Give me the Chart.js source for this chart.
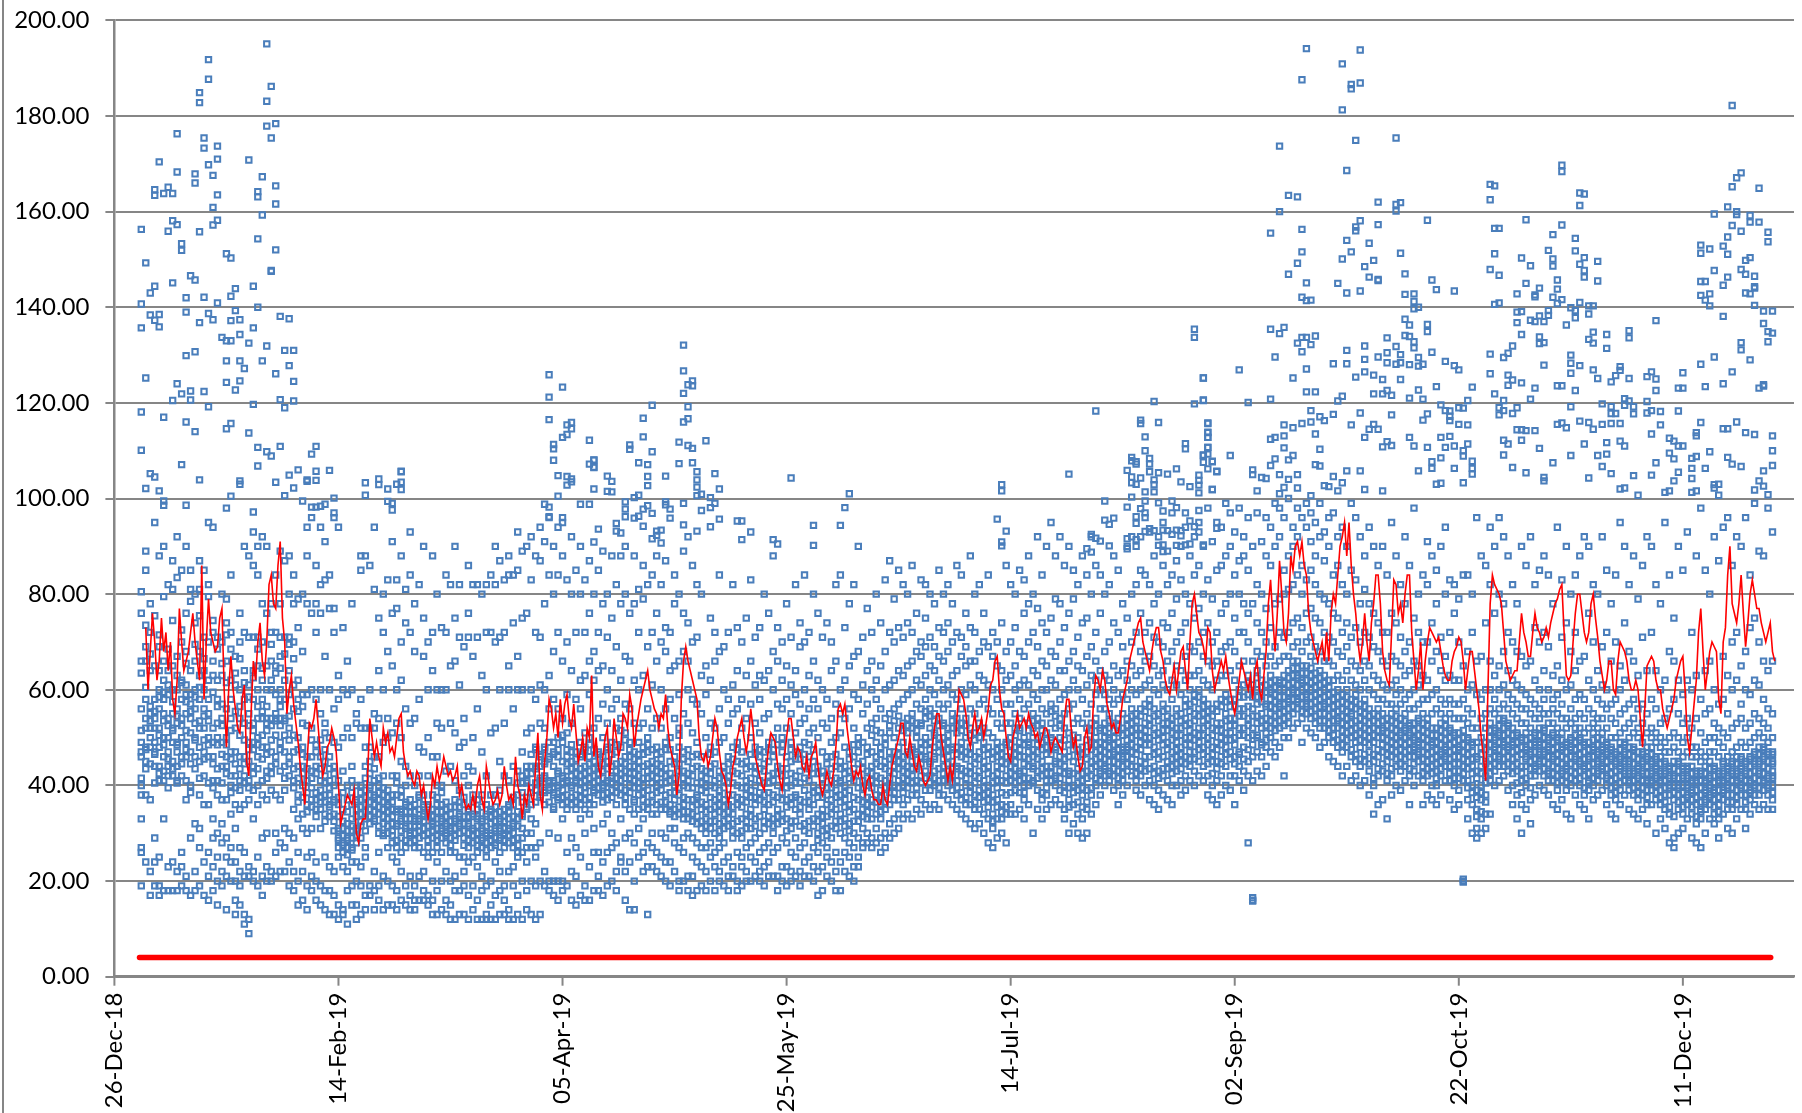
<!DOCTYPE html>
<html>
<head>
<meta charset="utf-8">
<style>
  html, body { margin: 0; padding: 0; background: #fff; overflow: hidden; }
  #frame { position: absolute; left: 2px; top: 0; width: 2px; height: 1113px; background: #868686; }
  #wrap { position: absolute; left: 0; top: 0; width: 1802px; height: 1113px; }
</style>
</head>
<body>
<div id="frame"></div>
<div id="wrap"><canvas id="grafico" width="1802" height="1113"></canvas></div>
<script src="https://cdn.jsdelivr.net/npm/chart.js@4/dist/chart.umd.min.js"></script>
<script>
/* ============================================================
DADOS - cada linha das bandas = um dia, a partir de 01-Jan-19
============================================================ */

const yTicks = [0, 20, 40, 60, 80, 100, 120, 140, 160, 180, 200];
const xTicks = [0, 50, 100, 150, 200, 250, 300, 350];
const floorX = [5.6, 369.6];
const floorY = [4, 4];

/* pontos altos: [dia, valor] */
const peaksWinter = [[28,195.1],[15,191.8],[15,187.7],[13,184.9],[13,182.8],[29,186.2],[28,183.1],[30,178.4],[28,177.9],[29,175.4],[8,176.3],[14,175.4],[14,173.3],[17,173.7],[17,171],[24,170.8],[4,170.4],[15,169.8],[8,168.3],[12,167.9],[16,167.6],[27,167.3],[12,166],[30,165.4],[3,164.6],[6,165.1],[3,163.4],[5,163.8],[7,163.8],[17,163.5],[26,164.2],[26,163.1],[30,161.6],[16,160.9],[27,159.3],[7,158.1],[17,158.2],[8,157.3],[16,157.2],[0,156.3],[6,155.9],[13,155.8],[26,154.3],[9,153.3],[9,151.9],[30,152],[19,151.2],[20,150.3],[1,149.3],[29,147.7],[29,147.5],[11,146.6],[12,145.7],[7,145.1],[3,144.4],[25,144.4],[21,143.9],[2,143],[20,142.3],[10,142],[14,142.1],[17,140.9],[0,140.7],[26,140],[21,139.3],[10,139],[15,138.7],[2,138.4],[4,138.5],[3,137.3],[31,138.1],[33,137.6],[16,137.4],[20,137.2],[22,137.4],[13,136.8],[0,135.7],[4,135.9],[25,135.7],[22,134.3],[18,133.7],[19,133],[20,133],[24,132.5],[28,131.9],[32,131],[34,131],[12,130.7],[10,129.9],[19,128.8],[22,128.8],[27,128.8],[33,127.8],[23,127.2],[30,126.1],[1,125.2],[22,124.6],[34,124.5],[19,124.3],[8,124],[11,122.5],[14,122.4],[21,122.7],[9,121.9],[7,120.5],[11,120.6],[31,120.7],[34,120.4],[25,119.7],[15,119.2],[32,119],[0,118.1],[5,117],[10,116],[20,115.7],[19,114.6],[12,114],[24,113.7],[0,110.1],[26,110.7],[31,110.9],[39,110.9],[28,109.8],[29,108.9],[38,109.3],[9,107.1],[26,106.8],[2,105.2],[3,104.5],[35,106],[39,105.7],[42,105.9],[33,104.9],[13,103.9],[22,103.7],[22,103],[37,103.9],[37,103.6],[39,103.8],[30,103.4],[34,102.2],[1,102.1],[4,101.6],[20,100.5],[32,100.6],[43,100.1],[36,99.5],[5,99.5],[5,98.6],[10,98.6],[19,98],[38,98.2],[39,98.2],[40,98.4],[41,98.8],[25,97.2],[43,97],[50,103.3],[50,100.7],[53,104.1],[53,102.9],[55,102],[57,103],[58,105.7],[58,105.6],[58,103.4],[58,101.9],[55,99.4],[56,99],[56,97.6]];
const peaksSpring = [[91,125.9],[94,123.3],[91,121.2],[91,116.5],[95,115.4],[96,115.9],[96,114.6],[95,113.4],[94,112.8],[92,111.3],[92,110.4],[100,112.2],[92,108],[101,108],[100,107.2],[101,106.6],[93,104.8],[95,104.6],[96,104.1],[96,103.5],[95,102.8],[101,102],[93,100.5],[90,98.8],[91,98.2],[98,98.8],[100,98.8],[91,96.2],[94,96],[121,132.1],[121,126.7],[123,124.6],[122,123.8],[123,123.6],[121,122],[114,119.5],[122,119.2],[112,116.8],[122,116.7],[121,116],[112,112.9],[126,112.1],[120,111.8],[122,111.1],[123,110.5],[109,111.2],[109,110.3],[114,109.8],[101,108.1],[101,106.5],[111,107.5],[113,107.1],[120,107.3],[123,107.5],[124,105.6],[128,105.2],[104,104.7],[113,104.6],[117,104.7],[105,103.6],[124,103.9],[113,102.7],[124,102.4],[129,102],[104,101.5],[105,101.4],[111,100.7],[110,100.2],[125,100.9],[124,100.6],[127,100.2],[145,104.3],[158,101],[192,102.9],[192,101.6],[207,105.1],[108,99.3],[108,97.8],[113,98.5],[112,97.8],[114,96.9],[108,96.2],[110,95.9],[111,96.3],[117,99.3],[117,98.7],[118,97.8],[118,95.9],[121,99],[125,97.5],[127,98.1],[128,99],[129,95.7],[121,94.5],[127,94.1],[106,94.8],[102,93.6],[112,94.2],[106,93.2],[107,92.8],[115,93.2],[116,93.4],[124,93.2],[133,95.3],[134,95.3],[136,93],[115,92.3],[122,92],[114,91.6],[134,91.4],[141,91.4],[142,90.5],[116,90.7],[101,90.9],[150,94.4],[156,94.4],[150,90.2],[157,98.1],[191,95.7],[193,93.2],[192,90.9],[192,90.1]];
const peaksSummer = [[235,135.4],[235,133.7],[237,125.2],[226,120.3],[235,119.8],[237,120.6],[213,118.3],[223,116.4],[223,115.7],[227,115.9],[238,115.7],[238,113.8],[238,112.8],[224,112.9],[233,111.5],[233,110.4],[238,110.7],[224,110],[237,109.1],[238,109.3],[221,108.6],[221,107.9],[222,107.7],[222,107.2],[225,108.4],[225,107.2],[237,107.6],[239,107.7],[238,106.2],[231,106.2],[220,105.9],[225,105.6],[227,105.4],[229,105.1],[240,105.6],[221,104.5],[223,104.3],[226,103.9],[236,104.9],[236,103.8],[232,103.5],[221,103.3],[222,103],[226,102.9],[236,102.8],[234,102.5],[239,101.9],[224,101.4],[226,101.4],[236,101.2],[221,100.3],[215,99.5],[220,98.2],[217,95.9],[215,95.5],[216,94.6],[222,96.2],[222,94.8],[224,99.5],[227,99.1],[230,99.5],[231,98.1],[223,97.9],[224,97],[228,97.4],[230,97],[233,97],[236,97.5],[228,95],[234,95.3],[235,94.1],[240,93.8],[212,92.5],[213,91.7],[214,91.1],[220,91.6],[222,91.4],[224,93.1],[225,93.7],[226,93.3],[228,93.4],[229,93.3],[231,93.4],[232,93.3],[236,93],[223,92],[230,92.5],[232,92.2],[216,90.1],[211,89.5],[212,88.8],[220,89.5],[227,90.2],[228,90.3],[228,88.9],[231,90.2],[233,90.3],[234,90.5],[237,90.3]];
const peaksAutumnA = [[260,194.1],[272,193.8],[268,190.9],[259,187.6],[270,186.6],[270,185.7],[272,186.9],[268,181.3],[355,182.2],[280,175.4],[271,174.9],[254,173.7],[269,168.6],[317,169.7],[317,168.4],[357,168.1],[356,167.1],[301,165.7],[302,165.4],[355,165.2],[361,164.9],[321,163.9],[322,163.7],[256,163.4],[258,163.1],[301,162.5],[276,162],[281,161.9],[280,161.5],[280,160.1],[321,161.3],[354,161],[254,160],[351,159.5],[356,160],[356,159.4],[309,158.3],[287,158.2],[272,158.1],[359,159.2],[359,157.8],[361,157.8],[276,157.3],[317,157.2],[271,156.8],[271,156],[259,156.3],[355,157.1],[302,156.5],[303,156.5],[357,155.9],[363,155.7],[252,155.5],[315,155.2],[320,154.4],[354,154.7],[269,154],[274,153.4],[363,153.7],[348,153],[353,152.8],[350,152.2],[314,151.9],[320,151.8],[270,151.6],[259,151.6],[281,151.3],[348,151.3],[302,151.2],[354,151.1],[308,150.3],[315,150.1],[322,150.4],[359,150.4],[358,149.8],[268,150.1],[275,149.8],[325,149.6],[258,149.2],[321,149],[310,148.7],[315,148.6],[273,148.5],[301,147.9],[357,147.9],[351,147.7],[322,147.7],[256,146.9],[282,147],[303,146.7],[358,146.9],[274,146.3],[276,145.8],[276,145.6],[322,146.3],[354,146.3],[360,146.5],[288,145.7],[316,145.7],[325,145.5],[348,145.4],[349,145.4],[260,145.1],[267,145],[309,145],[353,144.6],[360,144.3],[360,144],[312,144],[289,143.7],[293,143.4],[316,143.8],[272,143.4],[269,143],[358,143],[359,142.8],[282,142.7],[284,142.8],[307,142.8],[311,142.6],[311,142.2],[348,142.5],[350,142.8],[315,142.1],[317,141.6],[259,142.1],[260,141.4],[261,141.5],[284,141.2],[349,141.5],[321,141],[303,140.9],[302,140.6],[316,140.8],[360,140.4],[350,140.3],[323,140.3],[324,140.3],[285,140],[284,139.7],[319,139.9],[314,139.3],[320,139.3],[308,139.1],[307,139],[362,139.2],[364,139.2],[323,138.6],[314,138.3],[312,138.2],[353,138.1],[282,137.5],[310,137.3],[311,137],[313,137],[320,137.8],[307,136.8],[338,137.2],[362,136.6],[283,136.3],[287,136.4],[318,136.3],[252,135.4],[255,135.8],[254,134.5],[287,134.9],[324,134.8],[332,135.1],[363,134.9],[364,134.6],[327,134.3],[308,134.3],[262,134],[259,133.7],[260,133.7],[278,133.6],[282,134.1],[283,133.9],[332,133.6],[312,133.8],[323,133.3],[258,132.5],[284,132.8],[261,132.2],[312,132.4],[313,132.6],[324,132.5],[357,132.6],[357,131.1],[363,132.8],[273,131.9],[306,131.9],[284,131.5],[280,131.8],[327,131.4],[269,131],[259,130.7],[278,130.5],[288,130.6],[305,130.4],[301,130.2],[281,130.1],[319,130]];
const peaksAutumnB = [[253,129.6],[276,129.6],[304,129.5],[351,129.6],[285,129.5],[273,129.1],[359,129],[291,128.7],[266,128.2],[269,128.2],[278,128.4],[281,128.4],[319,128.3],[348,128.1],[280,128.1],[283,128],[286,128.1],[285,127.7],[293,127.8],[294,126.9],[313,127.9],[321,127.8],[330,127.6],[330,126.8],[324,126.9],[245,126.9],[260,127.1],[273,126.5],[337,126.5],[344,126.3],[355,126.5],[301,126.1],[319,126.2],[275,125.8],[305,125.8],[329,125.7],[271,125.4],[257,125.2],[237,125.2],[336,125.5],[277,124.9],[281,124.9],[306,124.8],[325,125.1],[332,125.1],[338,125],[328,124.4],[308,124.2],[305,123.7],[316,123.6],[317,123.6],[353,124],[362,123.8],[362,123.5],[361,123.1],[297,123.3],[289,123.4],[343,123.1],[344,123.1],[349,123.4],[311,123.1],[285,122.7],[278,122.6],[320,122.6],[338,122.6],[260,122.3],[262,122.3],[275,121.9],[277,121.9],[279,121.6],[302,121.9],[268,121.4],[267,120.4],[283,121],[286,120.8],[310,120.8],[252,120.8],[237,120.5],[331,120.9],[332,120.4],[247,120.1],[296,120.5],[304,120.5],[336,120.3],[290,119.6],[326,119.8],[294,119],[295,118.9],[319,119.2],[303,119],[307,119],[328,119.2],[331,119.5],[333,119.2],[291,118.4],[292,118.3],[304,118.4],[339,118.2],[337,118.4],[343,118.3],[261,118.4],[272,117.9],[266,117.6],[279,117.5],[287,117.7],[303,117.5],[306,117.8],[328,117.8],[329,117.8],[333,117.7],[336,117.9],[292,117.2],[263,117.1],[292,116.3],[286,116.4],[264,116.3],[261,116],[259,115.7],[238,115.8],[255,115.4],[316,115.5],[317,115.8],[321,116.2],[323,115.9],[348,115.9],[356,116],[326,115.5],[328,115.7],[330,115.7],[270,115.4],[275,115.5],[294,115.5],[296,115.4],[339,115.4],[257,114.8],[318,114.8],[274,114.5],[276,114.5],[324,114.5],[353,114.6],[354,114.6],[307,114.4],[308,114.4],[309,114.2],[311,114.2],[238,113.9],[262,113.5],[337,113.5],[358,113.8],[360,113.4],[347,113.8],[347,113.1],[238,112.8],[255,113.1],[273,112.8],[283,112.8],[290,112.8],[292,113],[364,113.1],[253,112.8],[252,112.4],[341,112.6],[304,112.2],[308,112.2],[342,112],[343,111],[344,111],[278,111.9],[279,111.1],[277,110.8],[284,111],[287,110.7],[291,110.7],[293,111],[296,111.4],[305,111.4],[322,111.4],[327,111.7],[330,112],[331,111],[255,110.6],[238,110.7],[312,110.5],[263,110.3],[295,110],[237,109],[243,109],[257,109],[295,108.9],[304,109.1],[319,109],[325,109],[327,109.3],[341,109.5],[347,108.8],[346,108.4],[342,108.3],[350,109.8],[354,108.6],[364,110],[253,108.3],[256,108.1],[290,108.5],[288,107.7],[297,107.8],[239,107.8],[315,107.5],[338,107.5],[355,107.2],[357,106.7],[364,106.9],[252,106.9],[262,107.1],[263,106.8],[293,106.3],[297,106.3],[288,106.3],[306,106.5],[326,106.7],[346,106.3],[349,106.3],[269,105.8],[272,105.8],[285,105.8],[248,106],[240,105.7],[309,105.4],[328,105.2],[362,105.8],[343,105.5],[297,105.1],[248,105],[254,105],[258,105],[333,104.8],[337,104.9],[266,104.6],[323,104.3],[250,104.4],[251,104.2],[256,104],[346,104.2],[313,104.4],[313,103.7],[342,103.7],[361,103.7],[268,103.3],[289,103],[290,103.2],[295,103.3],[264,102.7],[265,102.5],[351,102.9],[352,103],[351,102.2],[330,102],[331,102.2],[362,102.6],[255,102.3],[258,102.2],[273,101.9],[239,101.9],[249,101.6],[267,101.6],[277,101.6],[340,101.3],[341,101.6],[346,101.3],[347,101.6],[360,101.8],[254,101],[261,100.6],[334,100.7],[352,100.7],[363,100.8]];

/* bandas diarias */
const bandJan = [
[19,26,27,33,38,40,46,47,49,56,66,76],[24,38,45,48,52,54,58,66,69,85,89],[17,22,37,48,50,52,55,64,72,78],[19,24,29,44,47,49,52,54,58,65,95],
[17,19,25,41,44,48,52,56,60,64,69,88],[18,33,41,43,46,50,55,58,62,66,90],[18,23,42,44,47,50,54,59,61,64,82],[18,24,42,45,49,52,55,60,65,81,87],
[18,22,41,44,47,49,53,56,60,63,67,92],[19,23,26,42,46,50,54,58,62,70,85],[18,21,37,41,46,49,55,59,61,68,76,90],[17,29,40,47,51,54,57,59,64,81,85],
[18,22,32,46,50,53,56,60,66,74,80],[19,27,31,38,45,48,52,58,63,68,81,87],[17,24,36,42,47,52,56,60,64,71,85],[16,21,26,36,46,50,55,58,62,70,82,95],
[18,23,29,33,41,46,49,52,63,66,72,94],[15,20,25,30,38,41,50,53,58,62,71],[19,22,28,32,37,44,49,54,57,63,70,80],[14,21,25,29,37,44,46,50,56,66,74,79],
[20,24,27,34,40,42,47,54,58,62,72,84],[13,16,20,24,31,36,42,47,52,61,67],[15,19,22,27,35,39,41,46,54,60,70,76],[11,13,21,26,36,42,46,53,58,64,72,90],
[9,12,21,23,37,41,45,49,55,61,71,88],[20,22,33,39,44,49,53,58,64,71,86,93],[19,25,36,40,46,50,54,60,65,71,84,90],[17,21,29,38,41,48,54,58,62,70,78,92],
[20,23,30,37,43,48,53,54,60,65,76,90],[20,22,39,44,47,54,60,62,66,72,78],[21,26,30,38,46,54,55,59,65,72,84],[22,28,37,43,49,54,58,60,67,71,78,89],
[22,27,31,39,44,47,54,58,62,71,87],[19,24,30,42,46,52,59,64,71,80,88],[18,22,29,35,41,47,56,61,70,78,84],[15,20,26,33,38,44,50,58,62,73,79],
[16,22,31,34,40,44,48,53,59,68,80],[14,19,25,30,36,41,46,59,78,88,94],[18,21,26,31,37,43,46,52,60,76,96],[16,20,24,35,37,44,47,58,72,78,86],
[15,19,31,35,39,41,46,55,60,76,82,94],[14,18,25,34,38,42,45,51,53,67,83,91],[13,18,23,36,38,41,46,50,60,77,84],[13,17,22,34,37,40,44,49,56,72,77,96]];
const bandMar = [
[12,15,25,27,29,31,36,41,48,58,63,94],[13,14,23,26,28,31,35,43,50,60,73],[11,18,22,27,29,32,37,40,52,59,66],[15,19,24,27,29,33,36,41,44,50,60,78],
[12,15,20,24,28,31,35,37,40,53,55],[13,19,23,29,34,37,40,52,58,85,88],[14,17,25,27,33,36,39,44,48,52,88],[17,19,32,35,38,40,45,48,52,60,86],
[14,18,22,33,36,38,41,46,52,55,81,94],[16,19,26,30,34,37,40,46,54,64,75],[14,21,30,32,35,38,42,49,60,72,80],[15,20,27,30,33,36,39,50,54,68,83],
[15,19,25,28,32,35,38,42,51,65,76,91],[14,18,24,27,32,35,38,42,53,60,77,83],[16,22,26,29,33,35,39,45,50,62,70,88],[15,19,27,31,33,36,40,44,56,74,81],
[14,17,21,28,30,33,37,42,53,72,84,93],[14,16,19,27,30,33,36,40,54,68,78],[16,21,27,29,33,35,38,42,48,58,82],[16,18,22,26,31,34,36,38,47,67,75,90],
[15,17,25,27,30,34,36,42,50,60,70],[13,16,20,26,29,32,35,38,46,64,72,88],[13,18,24,27,31,33,36,40,46,53,60,80],[14,20,26,29,31,33,36,40,52,60,73],
[13,16,22,28,30,32,35,43,60,72,84],[12,15,20,26,29,31,34,44,53,65,82],[12,18,21,26,31,33,37,41,51,66,75,90],[13,18,25,30,32,34,39,48,61,71,82],
[13,19,22,25,29,32,36,42,49,54,69],[12,17,24,27,30,32,35,40,44,71,76,86],[14,19,25,28,31,34,38,43,50,67,82],[12,16,23,26,30,33,35,37,56,71,82],
[12,18,21,27,29,31,33,38,47,63,80],[12,13,19,25,28,30,34,36,42,60,72,82],[12,15,20,27,30,32,35,38,51,72,84],[12,17,24,28,29,31,34,38,52,70,82,90],
[13,18,22,26,29,31,33,39,45,60,71,87],[13,16,19,27,30,31,35,42,53,72,83],[12,14,22,28,31,33,36,41,60,65,84,88],[12,19,23,27,30,32,36,44,56,74,84],
[13,17,25,26,29,33,38,43,60,67,85,93],[12,20,26,29,31,34,42,47,60,75,89],[14,18,24,27,30,35,41,44,51,76,90],[13,20,27,30,33,36,44,52,60,83,92],
[12,19,25,27,32,39,44,48,58,72,88],[13,20,28,38,41,44,46,53,61,71,87,94],[19,22,36,39,42,45,48,52,60,78,91],[18,20,30,39,41,46,49,56,63,84,96],
[17,20,35,38,41,44,47,49,58,68,80,90],[16,20,29,37,40,43,46,50,56,72,84,94]];
const bandMay = [
[18,20,33,36,39,42,45,49,54,66,88,95],[19,26,35,38,41,43,46,51,59,70,83],[16,22,29,36,40,42,45,47,53,64,80,92],[15,21,27,35,38,41,44,47,58,72,85],
[17,25,33,36,39,42,46,49,56,62,80,90],[16,19,30,35,37,41,44,48,51,63,72,83],[16,23,34,36,40,43,46,50,59,66,76,87],[18,26,31,36,39,42,45,52,62,68,80],
[18,21,26,38,41,44,47,54,64,72,85],[17,24,32,38,40,43,46,50,57,65,78,89],[19,26,34,37,41,45,48,53,60,71,80],[20,27,30,39,42,44,49,56,64,75,88],
[18,22,28,36,40,43,47,52,58,69,82],[24,25,33,38,41,45,48,54,62,78,88],[16,22,29,36,39,43,46,51,57,67,80,90],[14,24,30,35,40,44,46,49,56,66,76],
[14,20,28,34,37,41,44,47,53,62,78,88],[25,31,35,38,42,45,49,52,60,72,81],[22,26,33,37,40,44,48,53,63,79,86],[13,23,28,35,39,43,47,50,56,69,82],
[23,27,30,34,38,42,45,52,61,72,84],[22,26,34,36,40,43,48,54,66,76,88],[21,25,30,35,39,44,47,52,60,70,82],[20,24,29,35,38,42,49,56,68,73,87],
[19,24,31,34,36,41,45,50,58,64,72],[22,28,31,35,37,40,46,54,65,78,84],[18,20,27,34,38,43,48,52,59,66,80],[20,26,29,33,36,40,43,47,55,68,76,89],
[18,21,30,33,37,41,45,53,60,66,74],[17,21,25,29,34,37,42,46,51,58,70,86],[18,24,28,32,36,38,44,49,57,71,82],[19,23,27,31,35,39,42,46,55,63,80],
[18,22,27,30,33,36,40,43,50,59,65],[20,25,28,31,35,40,44,48,53,62,75],[18,23,26,30,34,37,41,47,52,66,72],[20,22,27,29,32,36,39,43,49,56,68,84],
[19,24,28,31,34,37,41,44,50,60,69],[18,21,25,33,36,38,42,46,53,58,72],[21,23,29,32,34,38,43,48,55,61,82],[18,20,26,30,36,40,45,49,56,64,73],
[19,23,25,29,33,37,42,47,52,58,70],[20,22,27,31,34,38,41,45,54,63,75],[20,25,28,31,35,39,44,50,57,66,83],[21,24,29,33,36,40,44,48,53,61,71],
[20,22,26,30,37,41,46,51,58,63,73],[19,23,27,31,35,38,43,47,54,62,80],[21,24,28,32,36,42,45,49,55,64,76],[21,26,30,33,38,41,46,50,60,68,88],
[18,21,27,32,35,40,44,52,57,66,73],[20,23,29,34,37,42,47,50,56,62,70]];
const bandJun = [
[19,23,28,33,37,41,46,52,58,65,78],[20,22,26,31,36,40,45,49,55,61,71],[21,25,29,35,38,42,47,51,59,64,82],[19,22,27,34,37,43,48,53,57,69,74],
[21,24,28,32,39,44,49,54,60,70,84],[21,25,30,35,38,41,46,51,56,63,72],[20,23,27,33,36,40,45,52,58,66,80],[17,22,26,30,34,39,44,50,56,62,76],
[18,23,28,32,35,40,43,47,53,60,71],[21,25,27,31,36,38,42,46,52,58,74],[20,24,29,34,37,41,46,49,54,64,70],[18,22,26,31,35,39,44,50,57,66,82],
[18,24,30,34,38,41,45,51,55,60,84],[22,26,29,33,37,40,44,48,54,62,73],[21,25,28,32,36,39,43,47,56,65,78],[20,23,27,30,35,41,46,52,59,67,82],
[23,25,29,34,37,42,47,50,58,68,90],[27,28,31,35,38,41,45,49,55,61,71],[28,30,33,36,40,43,48,52,57,64,77],[27,29,33,37,41,44,47,53,60,66,72],
[28,31,34,38,42,46,49,54,58,62,80],[26,29,33,36,39,44,48,51,56,65,74],[27,30,35,38,41,45,50,54,60,68,83],[29,32,36,40,43,47,51,55,61,72,87],
[30,33,37,40,44,47,50,56,62,70,79],[31,34,37,41,45,48,52,57,64,73,85],[33,36,40,43,46,49,53,58,63,71,82],[34,37,41,44,47,51,54,59,65,74,80],
[33,38,42,45,48,52,55,60,66,72,86],[35,38,41,44,47,50,53,57,62,68,76],[34,37,42,46,49,53,56,61,67,70,83],[36,39,43,46,50,54,58,63,69,75,82],
[35,39,42,45,49,52,56,60,65,71,80],[36,40,43,46,48,51,55,59,64,69,78],[35,38,41,47,50,54,57,62,67,73,85],[38,41,44,47,50,53,56,60,66,72,80],
[37,40,43,46,49,52,57,61,68,74,82],[36,39,42,45,48,52,55,59,63,70,78],[35,38,41,44,48,51,54,58,64,72,86],[34,37,42,46,49,53,56,60,67,71,84],
[33,36,40,43,47,50,54,59,65,69,76],[32,36,40,44,48,52,56,61,66,73,88],[31,35,38,42,46,51,55,60,66,72,80],[32,35,39,43,47,50,53,57,63,68,82],
[30,34,38,41,45,49,52,58,62,70,76],[28,33,37,40,44,48,51,56,61,69,84],[27,31,34,38,42,47,50,55,60,67,72],[29,33,37,41,44,46,49,53,58,65,70],
[30,33,36,41,45,48,52,55,60,64,74],[28,34,38,42,46,49,53,57,62,68,86]];
const bandAug = [
[34,36,41,44,47,50,53,57,63,70,82],[34,39,42,45,48,52,55,60,65,73,80],[35,41,43,46,49,52,54,58,61,68,85],[33,37,40,43,46,50,56,62,67,76,83],
[36,40,44,47,49,53,57,61,70,78,88],[30,41,44,46,50,52,55,59,64,72,80],[35,39,43,47,50,54,58,63,69,77,92],[33,37,42,45,49,53,56,60,66,74,84],
[35,38,41,44,48,51,55,60,65,72,90],[36,41,44,48,50,53,57,62,68,75,95],[37,40,42,45,48,52,56,61,67,79,88],[36,39,43,46,50,54,58,64,70,78,92],
[33,35,40,44,47,52,55,59,64,73,86],[30,37,41,43,46,51,56,60,66,76,90],[32,36,40,45,49,53,57,62,68,79,85],[30,34,39,42,46,50,54,60,65,71,82],
[29,33,38,41,44,48,53,58,64,74,88],[30,35,39,43,47,52,55,61,67,75,84],[34,38,42,45,49,53,57,63,69,80,92],[36,40,44,47,50,54,59,62,66,72,86],
[38,41,43,46,49,52,56,60,64,76,84],[40,42,44,47,50,53,56,59,63,68,80],[41,43,45,48,50,52,55,58,62,70,82],[39,42,45,47,50,53,57,60,65,74,88],
[36,40,43,46,49,51,54,58,63,72,85],[38,41,44,46,48,52,55,59,64,69,78],[40,43,46,48,51,54,58,62,66,75,90],[42,44,47,50,53,56,60,65,70,80,92],
[39,41,44,48,52,55,59,63,72,82,90],[38,42,45,49,52,56,60,64,68,76,85],[40,43,46,50,53,57,61,66,72,84,96],[37,41,46,50,54,58,62,67,74,82,93],
[36,40,44,48,52,56,60,65,71,78,88],[35,39,43,47,51,55,59,63,70,80,92],[38,42,46,50,53,57,61,64,69,74,86],[37,41,45,49,53,56,60,66,73,82,89],
[36,40,44,47,51,54,58,62,68,76,84],[40,43,46,49,52,56,61,65,70,79,87],[38,41,45,48,52,55,59,64,72,83,90],[39,42,46,50,54,58,62,67,74,80,94],
[41,44,47,50,53,57,60,63,69,78,88],[40,43,47,51,55,59,63,68,75,84,92],[42,45,49,52,56,60,64,70,77,86,95],[41,44,48,52,55,58,62,67,72,80,90],
[38,42,46,50,54,57,61,66,74,83,98],[37,40,45,48,52,56,60,65,70,79,91],[36,41,45,49,53,57,62,66,72,85,95],[38,42,46,50,53,58,63,68,76,86,94],
[40,44,48,51,55,59,63,69,78,88,99],[39,42,47,51,54,58,64,70,80,90,97]];
const bandOct = [
[36,42,46,50,54,58,62,68,75,84,93],[41,44,47,52,56,60,65,72,80,87,98],[39,43,48,52,56,61,66,72,78,88,92],[28,42,45,50,54,59,63,70,76,85,96],
[16.5,15.8,16,41,46,52,56,61,66,78,90],[43,47,50,53,57,60,64,68,74,82,97],[42,46,49,52,55,59,62,67,72,80,91],[44,48,51,54,57,61,65,70,77,88,96],
[47,50,52,55,58,60,63,67,73,86,94],[46,49,53,56,59,62,65,69,78,90,99],[48,52,55,57,60,62,66,72,79,92,98],[42,50,54,57,60,63,67,71,80,85,96],
[50,53,56,58,61,64,67,72,81,88,100],[52,55,58,60,63,66,69,74,82,90,94],[53,56,58,61,63,66,70,75,84,92,98],[49,54,57,60,62,65,68,73,80,86,96],
[52,55,57,59,62,65,70,76,83,94,99],[51,54,57,60,63,67,71,77,85,91,97],[50,53,56,59,62,66,69,75,82,88,95],[48,52,55,58,61,64,68,74,80,92,99],
[49,52,55,57,60,63,66,72,79,87,93],[46,50,53,56,59,62,66,71,78,90,96],[45,49,52,55,58,62,65,70,76,84,97],[44,48,52,54,57,60,63,68,75,86,92],
[42,47,50,53,56,59,62,67,72,82,94],[44,48,51,54,57,60,64,69,74,80,90],[41,46,50,53,55,58,62,66,71,85,99],[42,45,49,52,56,59,61,65,73,83,96],
[40,44,48,51,54,57,60,64,70,78,92],[41,45,49,52,55,58,62,66,72,81,88],[38,43,47,50,53,56,60,65,71,78,94],[34,40,45,49,52,55,59,63,69,76,90],
[36,42,46,50,53,56,58,62,68,74,86],[37,43,47,50,52,55,58,61,66,72,90],[33,41,45,48,51,54,57,60,65,72,84],[38,42,46,49,52,55,57,61,67,76,95],
[40,44,47,50,53,56,59,62,66,74,88],[39,43,46,49,51,54,57,60,65,71,82],[41,44,47,50,52,55,58,63,68,78,92],[36,42,46,49,51,53,56,59,64,70,86],
[40,43,46,48,50,53,56,60,66,75,98],[42,45,47,49,52,54,57,61,65,72,80],[36,41,44,47,50,53,55,58,63,70,84],[38,42,45,48,51,54,58,62,70,82,91],
[37,40,44,47,49,52,55,59,66,74,88],[36,40,43,46,49,52,56,60,68,78,85],[38,42,45,47,50,53,55,58,64,71,90],[41,44,46,48,51,54,57,62,67,80,94],
[37,41,44,47,50,52,55,58,63,72,83],[35,40,43,46,49,51,54,57,62,76,82]];
const bandNov = [
[36,39,43,46,48,51,54,57,62,70,79],[20.4,19.8,20,41,44,47,50,54,58,65,84],[33,37,41,45,48,50,53,56,60,68,84],[30,36,40,44,47,49,52,55,61,72,80],
[29,31,35,39,43,46,49,52,59,66,96],[30,33,37,40,44,48,50,54,58,67,88],[31,34,38,42,45,49,52,55,60,74,86],[34,41,44,47,50,53,56,60,66,82,94],
[40,43,46,48,50,52,55,58,63,76,90],[41,44,46,49,51,54,56,60,65,80,96],[42,44,47,49,52,54,57,61,68,78,92],[39,43,46,48,51,53,56,59,64,72,88],
[36,40,44,47,49,52,55,58,62,70,82],[33,38,43,46,49,51,54,57,61,68,78],[30,36,41,44,48,50,53,56,60,67,90],[35,40,44,46,48,51,53,56,59,65,86],
[32,37,42,45,47,50,52,55,58,66,92],[38,42,44,47,49,51,54,57,62,73,82],[40,43,45,47,49,52,54,56,60,70,85],[39,42,45,47,50,52,55,58,64,72,88],
[38,41,43,46,48,50,53,55,60,69,84],[36,41,44,46,49,51,53,56,58,63,78],[35,39,42,45,48,50,52,55,59,65,94],[37,41,43,46,48,51,54,57,62,71,83],
[34,39,42,44,47,49,52,54,60,74,90],[33,40,43,46,48,50,53,56,61,68,80],[38,41,44,46,49,52,54,58,64,72,84],[36,40,43,45,48,50,52,55,59,66,88],
[35,38,42,44,47,49,51,54,58,67,92],[33,39,41,44,46,49,52,56,62,76,90],[37,40,43,46,48,51,53,55,60,70,82],[38,41,43,45,47,50,52,54,58,64,80],
[39,42,44,46,48,51,54,57,61,69,92],[36,40,42,45,47,49,52,56,60,72,85],[34,38,41,44,46,48,50,54,57,66,78],[33,37,40,43,45,47,50,53,58,70,84],
[36,39,42,44,46,49,51,55,60,65,95],[38,41,43,45,47,49,52,56,62,74,90],[35,39,41,43,45,48,50,53,57,68,82],[34,38,41,43,46,48,51,54,58,66,88],
[33,37,40,42,44,47,50,52,56,63,79],[35,38,41,43,45,47,49,53,57,71,86],[32,36,39,41,44,46,48,51,55,64,92],[36,39,41,43,45,48,50,52,58,72,90],
[30,37,40,42,44,46,49,51,56,64,82],[33,36,39,41,43,46,48,50,53,60,78],[31,35,38,41,43,45,47,49,54,62,95],[28,34,38,40,42,44,47,50,56,68,84],
[27,29,37,40,42,45,48,51,58,66,75],[30,35,38,40,43,45,47,50,55,62,90]];
const bandDez = [
[31,34,37,40,42,44,46,49,53,59,85],[33,36,38,40,42,44,47,50,54,62,93],[29,34,37,39,41,44,46,48,52,60,72],[28,32,36,39,41,43,46,48,54,63,88],
[27,33,35,38,41,43,45,47,51,58,98],[30,35,37,39,41,44,46,49,55,64,85],[33,36,38,40,42,45,47,50,56,66,80],[32,34,37,39,42,44,47,50,53,60,92],
[29,33,36,39,41,43,46,49,52,57,87],[34,37,39,41,43,45,48,51,58,67,94],[31,35,38,40,42,44,46,50,55,63,96],[30,35,38,41,43,45,47,52,60,70,86],
[33,36,39,41,43,46,48,53,62,72,92],[35,38,40,42,44,46,49,54,57,65,90],[31,35,38,41,43,45,48,52,60,68,96],[34,37,39,41,44,46,49,53,59,73,84],
[36,38,40,43,45,47,50,55,62,75,99],[35,38,41,43,45,48,51,54,61,70,89],[36,39,41,44,46,48,50,53,58,66,88],[35,38,40,42,45,47,49,52,56,64,98],
[35,37,40,42,43,45,47,50,55,66,93]];

/* pontos extras onde a nuvem e mais densa, por trecho (mesma ordem de dias) */
const denseWinter = [
[41.5,51.5,63.5,80.5],[43.5,47.5,60.5,73.5],[44.5,53.5,56.5,67.5],[40.5,46.5,55.5,75.5],[42.5,50.5,58.5,71.5],[48.5,53.5,59.5,79.5],[39.5,45.5,52.5,68.5],[43.5,51.5,57.5,74.5],[40.5,48.5,54.5,83.5],[44.5,52.5,61.5,72.5],[47.5,51.5,57.5,65.5],[38.5,44.5,55.5,78.5],[43.5,49.5,58.5,69.5],[41.5,53.5,60.5,75.5],[45.5,49.5,54.5,66.5],[40.5,48.5,53.5,79.5],[39.5,44.5,59.5,74.5],[43.5,48.5,56.5,68.5],[40.5,46.5,52.5,65.5],[42.5,48.5,61.5,71.5],[38.5,45.5,51.5,68.5],[39.5,44.5,55.5,63.5],[43.5,50.5,56.5,66.5],[40.5,44.5,49.5,61.5],[39.5,47.5,52.5,58.5],[42.5,47.5,51.5,62.5],[43.5,48.5,56.5,68.5],[45.5,50.5,55.5,64.5],[41.5,46.5,51.5,56.5],[42.5,49.5,52.5,69.5],[44.5,50.5,53.5,63.5],[47.5,52.5,56.5,64.5],[41.5,50.5,53.5,67.5],[44.5,49.5,54.5,69.5],[39.5,43.5,50.5,66.5],[36.5,41.5,47.5,55.5],[37.5,42.5,46.5,56.5],[34.5,38.5,43.5,52.5],[35.5,39.5,41.5,49.5],[33.5,38.5,42.5,48.5],[36.5,37.5,43.5,49.5],[32.5,36.5,40.5,47.5],[33.5,35.5,39.5,43.5],[30.5,32.5,36.5,42.5]];
const denseSpring = [
[28.5,30.5,33.5,37.5],[27.5,29.5,32.5,38.5],[25.5,28.5,30.5,34.5],[26.5,30.5,31.5,38.5],[29.5,30.5,33.5,36.5],[31.5,32.5,35.5,38.5],[30.5,34.5,37.5,41.5],[33.5,36.5,39.5,42.5],[32.5,34.5,37.5,43.5],[31.5,35.5,38.5,41.5],[29.5,33.5,36.5,39.5],[31.5,34.5,35.5,37.5],[29.5,30.5,33.5,36.5],[28.5,31.5,34.5,40.5],[30.5,32.5,34.5,37.5],[28.5,31.5,34.5,36.5],[29.5,31.5,34.5,35.5],[28.5,31.5,32.5,34.5],[30.5,31.5,32.5,37.5],[29.5,32.5,33.5,35.5],[28.5,31.5,33.5,35.5],[30.5,31.5,32.5,33.5],[28.5,29.5,34.5,37.5],[30.5,32.5,34.5,38.5],[29.5,31.5,33.5,36.5],[27.5,30.5,32.5,35.5],[28.5,29.5,32.5,35.5],[31.5,33.5,35.5,36.5],[27.5,30.5,33.5,37.5],[28.5,31.5,33.5,34.5],[29.5,30.5,33.5,36.5],[27.5,28.5,31.5,33.5],[28.5,30.5,32.5,35.5],[26.5,29.5,31.5,33.5],[28.5,29.5,33.5,34.5],[27.5,30.5,32.5,35.5],[28.5,30.5,32.5,34.5],[28.5,29.5,32.5,33.5],[29.5,30.5,34.5,35.5],[28.5,31.5,33.5,37.5],[27.5,31.5,34.5,40.5],[33.5,36.5,38.5,40.5],[35.5,37.5,40.5,42.5],[38.5,39.5,42.5,46.5],[36.5,40.5,43.5,47.5],[37.5,40.5,41.5,46.5],[38.5,41.5,44.5,47.5],[36.5,39.5,40.5,45.5],[35.5,38.5,40.5,46.5],[37.5,39.5,42.5,47.5]];
const denseMay = [
[37.5,40.5,41.5,50.5],[36.5,40.5,44.5,47.5],[37.5,39.5,43.5,48.5],[36.5,40.5,42.5,45.5],[37.5,40.5,43.5,46.5],[38.5,39.5,42.5,47.5],[37.5,41.5,44.5,48.5],[38.5,40.5,43.5,47.5],[39.5,42.5,43.5,46.5],[36.5,39.5,41.5,44.5],[38.5,40.5,43.5,47.5],[37.5,40.5,41.5,46.5],[38.5,41.5,44.5,48.5],[39.5,42.5,43.5,51.5],[37.5,41.5,44.5,49.5],[38.5,41.5,42.5,47.5],[36.5,39.5,42.5,45.5],[39.5,40.5,43.5,46.5],[35.5,38.5,41.5,46.5],[36.5,41.5,44.5,48.5],[36.5,40.5,43.5,47.5],[38.5,41.5,44.5,46.5],[36.5,40.5,42.5,45.5],[36.5,40.5,43.5,47.5],[34.5,38.5,42.5,47.5],[33.5,38.5,41.5,44.5],[35.5,39.5,44.5,50.5],[34.5,37.5,41.5,45.5],[34.5,39.5,42.5,47.5],[32.5,35.5,39.5,43.5],[33.5,37.5,40.5,46.5],[32.5,36.5,40.5,43.5],[31.5,34.5,38.5,41.5],[32.5,37.5,42.5,46.5],[32.5,35.5,39.5,44.5],[30.5,34.5,37.5,41.5],[32.5,35.5,39.5,42.5],[31.5,34.5,40.5,44.5],[30.5,35.5,40.5,45.5],[32.5,37.5,42.5,47.5],[30.5,35.5,39.5,44.5],[32.5,36.5,39.5,43.5],[33.5,37.5,41.5,46.5],[31.5,37.5,42.5,46.5],[33.5,38.5,43.5,47.5],[32.5,36.5,40.5,44.5],[33.5,38.5,40.5,47.5],[31.5,36.5,42.5,47.5],[33.5,37.5,42.5,48.5],[32.5,38.5,43.5,48.5]];
const denseJun = [
[30.5,35.5,39.5,43.5],[32.5,37.5,42.5,47.5],[32.5,37.5,40.5,45.5],[31.5,35.5,40.5,45.5],[30.5,36.5,41.5,46.5],[32.5,36.5,43.5,48.5],[31.5,38.5,42.5,47.5],[28.5,32.5,37.5,42.5],[30.5,33.5,37.5,41.5],[29.5,33.5,39.5,44.5],[31.5,35.5,39.5,43.5],[32.5,37.5,41.5,46.5],[32.5,36.5,40.5,43.5],[31.5,35.5,38.5,42.5],[30.5,34.5,41.5,45.5],[32.5,37.5,43.5,48.5],[32.5,39.5,44.5,48.5],[33.5,36.5,39.5,43.5],[34.5,37.5,41.5,46.5],[35.5,39.5,42.5,50.5],[36.5,40.5,44.5,51.5],[34.5,37.5,41.5,46.5],[36.5,39.5,43.5,48.5],[38.5,41.5,45.5,52.5],[38.5,42.5,45.5,53.5],[39.5,43.5,46.5,54.5],[38.5,41.5,44.5,51.5],[39.5,42.5,46.5,52.5],[40.5,43.5,47.5,53.5],[39.5,43.5,46.5,51.5],[40.5,44.5,47.5,52.5],[41.5,45.5,48.5,55.5],[40.5,44.5,47.5,54.5],[41.5,45.5,50.5,53.5],[39.5,43.5,48.5,52.5],[42.5,45.5,48.5,52.5],[41.5,44.5,47.5,50.5],[40.5,43.5,47.5,53.5],[39.5,43.5,46.5,52.5],[38.5,43.5,47.5,51.5],[37.5,41.5,45.5,52.5],[38.5,42.5,46.5,50.5],[36.5,40.5,44.5,49.5],[37.5,41.5,45.5,51.5],[36.5,39.5,43.5,47.5],[35.5,38.5,42.5,46.5],[32.5,36.5,40.5,45.5],[35.5,39.5,42.5,47.5],[34.5,38.5,43.5,46.5],[35.5,40.5,44.5,48.5]];
const denseAug = [
[38.5,42.5,45.5,48.5],[40.5,43.5,46.5,50.5],[38.5,42.5,47.5,51.5],[38.5,41.5,44.5,48.5],[41.5,45.5,48.5,51.5],[40.5,43.5,47.5,53.5],[41.5,45.5,48.5,52.5],[38.5,43.5,47.5,51.5],[39.5,42.5,46.5,49.5],[42.5,46.5,49.5,55.5],[41.5,44.5,47.5,54.5],[41.5,44.5,48.5,52.5],[38.5,42.5,45.5,49.5],[35.5,39.5,42.5,48.5],[38.5,42.5,47.5,50.5],[36.5,40.5,43.5,47.5],[35.5,39.5,42.5,46.5],[36.5,41.5,45.5,49.5],[39.5,43.5,47.5,51.5],[41.5,45.5,48.5,52.5],[42.5,44.5,47.5,51.5],[43.5,45.5,48.5,51.5],[42.5,46.5,49.5,53.5],[43.5,46.5,48.5,51.5],[41.5,44.5,47.5,52.5],[42.5,45.5,47.5,50.5],[44.5,47.5,49.5,52.5],[45.5,48.5,51.5,54.5],[42.5,46.5,50.5,53.5],[43.5,47.5,50.5,54.5],[44.5,48.5,51.5,55.5],[43.5,48.5,52.5,56.5],[42.5,46.5,50.5,54.5],[41.5,45.5,49.5,53.5],[43.5,48.5,51.5,55.5],[43.5,47.5,51.5,54.5],[42.5,45.5,49.5,52.5],[44.5,47.5,50.5,54.5],[43.5,46.5,50.5,53.5],[44.5,48.5,52.5,56.5],[45.5,48.5,51.5,55.5],[45.5,49.5,53.5,57.5],[47.5,50.5,54.5,58.5],[46.5,50.5,53.5,56.5],[44.5,48.5,52.5,55.5],[42.5,46.5,50.5,54.5],[43.5,47.5,51.5,55.5],[44.5,48.5,51.5,56.5],[46.5,49.5,53.5,57.5],[45.5,49.5,52.5,56.5]];
const denseOct = [
[44.5,48.5,52.5,56.5],[46.5,50.5,54.5,58.5],[45.5,50.5,54.5,58.5],[47.5,52.5,56.5,61.5],[48.5,50.5,54.5,58.5],[50.5,54.5,58.5,62.5],[48.5,53.5,57.5,60.5],[49.5,52.5,56.5,59.5],[53.5,56.5,59.5,61.5],[51.5,54.5,57.5,60.5],[53.5,56.5,58.5,61.5],[52.5,55.5,58.5,61.5],[54.5,57.5,59.5,62.5],[56.5,59.5,61.5,64.5],[57.5,59.5,62.5,64.5],[55.5,58.5,61.5,63.5],[56.5,58.5,60.5,63.5],[55.5,58.5,61.5,64.5],[54.5,57.5,60.5,63.5],[53.5,56.5,59.5,62.5],[53.5,56.5,58.5,61.5],[51.5,54.5,57.5,60.5],[50.5,53.5,56.5,59.5],[49.5,53.5,55.5,58.5],[48.5,51.5,54.5,57.5],[49.5,52.5,55.5,58.5],[47.5,51.5,54.5,56.5],[46.5,50.5,53.5,57.5],[45.5,49.5,52.5,55.5],[46.5,50.5,53.5,56.5],[44.5,48.5,51.5,54.5],[41.5,46.5,50.5,53.5],[43.5,47.5,51.5,54.5],[44.5,48.5,51.5,53.5],[42.5,46.5,49.5,52.5],[43.5,47.5,50.5,53.5],[45.5,48.5,51.5,54.5],[44.5,47.5,50.5,52.5],[45.5,48.5,51.5,53.5],[43.5,47.5,50.5,52.5],[44.5,47.5,49.5,51.5],[46.5,48.5,50.5,53.5],[42.5,45.5,48.5,51.5],[43.5,46.5,49.5,52.5],[42.5,45.5,48.5,50.5],[41.5,44.5,47.5,50.5],[43.5,46.5,48.5,51.5],[45.5,47.5,49.5,52.5],[42.5,45.5,48.5,51.5],[41.5,44.5,47.5,50.5]];
const denseNov = [
[41.5,44.5,47.5,49.5],[42.5,45.5,48.5,51.5],[39.5,43.5,46.5,49.5],[38.5,42.5,45.5,48.5],[33.5,37.5,41.5,45.5],[34.5,38.5,42.5,46.5],[36.5,40.5,44.5,47.5],[42.5,45.5,48.5,51.5],[44.5,47.5,49.5,51.5],[45.5,47.5,50.5,52.5],[45.5,48.5,50.5,53.5],[44.5,47.5,49.5,52.5],[42.5,45.5,48.5,50.5],[40.5,44.5,47.5,50.5],[38.5,42.5,46.5,49.5],[41.5,45.5,47.5,49.5],[39.5,43.5,46.5,48.5],[43.5,45.5,48.5,50.5],[44.5,46.5,48.5,50.5],[43.5,46.5,48.5,51.5],[42.5,44.5,47.5,49.5],[42.5,45.5,47.5,50.5],[40.5,43.5,46.5,49.5],[42.5,44.5,47.5,49.5],[40.5,43.5,45.5,48.5],[41.5,44.5,47.5,49.5],[42.5,45.5,47.5,50.5],[41.5,44.5,46.5,49.5],[39.5,43.5,45.5,48.5],[40.5,42.5,45.5,47.5],[41.5,44.5,47.5,49.5],[42.5,44.5,46.5,48.5],[43.5,45.5,47.5,49.5],[41.5,43.5,46.5,48.5],[39.5,42.5,45.5,47.5],[38.5,41.5,44.5,46.5],[40.5,43.5,45.5,47.5],[42.5,44.5,46.5,48.5],[40.5,42.5,44.5,46.5],[39.5,42.5,44.5,47.5],[38.5,41.5,43.5,45.5],[39.5,42.5,44.5,46.5],[37.5,40.5,42.5,45.5],[40.5,42.5,44.5,46.5],[38.5,41.5,43.5,45.5],[37.5,40.5,42.5,44.5],[36.5,39.5,42.5,44.5],[35.5,39.5,41.5,43.5],[33.5,38.5,41.5,43.5],[36.5,39.5,41.5,44.5]];
const denseDez = [
[35.5,38.5,41.5,43.5],[37.5,39.5,41.5,43.5],[35.5,38.5,40.5,42.5],[33.5,37.5,40.5,42.5],[34.5,36.5,39.5,42.5],[36.5,38.5,40.5,42.5],[37.5,39.5,41.5,43.5],[35.5,38.5,40.5,43.5],[34.5,37.5,40.5,42.5],[38.5,40.5,42.5,44.5],[36.5,39.5,41.5,43.5],[36.5,39.5,42.5,44.5],[37.5,40.5,42.5,44.5],[39.5,41.5,43.5,45.5],[36.5,39.5,42.5,44.5],[38.5,40.5,42.5,45.5],[39.5,41.5,44.5,46.5],[39.5,42.5,44.5,46.5],[40.5,42.5,45.5,47.5],[39.5,41.5,43.5,46.5],[38.5,41.5,44.5,46.5]];

/* linha vermelha: dois valores por dia, a partir de 02-Jan-19 */
const redJan = [73,60,68,76,70,62,66,75,68,72,64,70,58,55,62,77,70,64,66,68,72,76,70,66,62,86,58,70,79,72,70,68,69,75,77,60,48,60,67,60,56,52,51,58,61,45,42,55,66,62,70,74,66,63,70,82,84,78,77,86,91,75,70,55,60,63,57,53,49,44,40,36,45,53,52,54,58,52,46,42,44,48,49,52,50,47,40,32,34,36,38,37,36,39,30,28,32,33,33,42];
const redMar = [54,50,46,49,46,44,52,49,51,47,48,46,50,54,55,47,44,42,43,41,40,43,42,38,40,36,33,36,42,40,44,41,43,46,44,42,43,41,42,44,38,40,37,35,36,35,38,35,40,42,37,35,44,41,38,36,37,39,36,38,44,40,37,38,36,46,40,38,33,38,36,40,38,36,44,51,38,35,45,50,58,56,52,55,50,58,53,57,59,54,52,57,51,45,47,50,45,52,50,63];
const redMay = [46,50,44,42,46,50,52,42,46,54,50,46,48,55,54,52,59,56,48,52,55,58,60,62,64,60,58,56,55,52,55,54,59,52,48,46,44,38,42,58,66,69,66,64,62,60,58,50,46,45,47,44,46,50,54,52,47,43,42,40,36,39,44,46,50,52,54,50,47,50,56,52,46,44,42,40,39,44,48,51,50,49,44,41,39,46,50,54,54,50,46,48,47,44,43,46,42,46,47,49];
const redJun = [44,40,38,40,43,41,40,43,48,56,57,55,57,52,48,44,41,43,42,44,40,38,41,42,39,37,37,36,36,40,37,36,40,44,46,48,50,53,53,47,46,50,47,44,43,46,44,41,40,41,42,48,52,55,55,50,47,44,41,44,41,46,54,60,59,58,55,50,48,52,55,51,52,54,50,53,56,61,62,66,67,60,56,55,50,46,45,50,52,55,52,53,54,52,55,53,52,50,51,48];
const redAug = [50,52,52,50,47,49,50,49,48,47,54,58,58,52,48,50,46,43,44,50,52,47,48,58,63,62,60,64,62,57,55,52,53,51,51,54,58,60,62,66,68,70,72,74,75,70,68,66,64,68,71,73,73,68,66,62,60,59,62,65,60,64,68,69,64,60,70,78,80,76,72,71,69,66,73,72,64,60,62,64,66,64,67,63,60,57,55,58,62,66,64,62,60,63,58,64,66,60,58,63];
const redOct = [68,78,83,75,68,76,87,80,72,70,76,88,85,90,91,88,91,86,84,76,72,70,68,66,68,70,66,72,66,76,80,78,84,90,92,95,88,95,86,80,76,70,66,70,76,70,66,74,78,84,84,78,68,64,62,61,72,83,82,76,78,74,80,84,84,72,66,60,64,70,60,66,70,73,72,71,70,71,68,65,63,62,62,66,68,69,71,70,66,60,64,68,68,64,60,56,50,46,41,60];
const redNov = [78,84,82,81,80,78,72,66,64,62,63,64,64,70,76,72,70,67,67,72,76,73,72,70,71,73,71,74,76,78,79,81,82,72,63,62,63,70,76,80,80,76,72,70,72,78,80,75,71,66,63,60,62,66,66,60,59,66,70,69,68,66,62,60,60,62,60,54,48,56,65,66,67,66,62,60,60,56,54,52,54,56,58,62,64,66,67,60,50,47,52,57,62,72,77,68,60,64,68,70];
const redDez = [69,68,58,55,70,73,84,90,78,76,74,78,84,76,69,74,80,83,80,77,77,74,72,70,72,74,68,66];

/* ============================================================
MONTAGEM DOS PONTOS
============================================================ */

const START = Date.UTC(2018, 11, 26);
const PRIMEIRO_DIA = 6; // 01-Jan-19 em dias desde 26-Dec-18
const MESES = ["Jan","Feb","Mar","Apr","May","Jun","Jul","Aug","Sep","Oct","Nov","Dec"];

function rotulo(d) {
  const t = new Date(START + d * 864e5);
  return String(t.getUTCDate()).padStart(2, "0") + "-" + MESES[t.getUTCMonth()] + "-" + String(t.getUTCFullYear()).slice(2);
}

const pontos = [];
const peaks = [...peaksWinter, ...peaksSpring, ...peaksSummer, ...peaksAutumnA, ...peaksAutumnB];
peaks.forEach((p) => pontos.push({ x: p[0] + PRIMEIRO_DIA, y: p[1] }));

const bandas = [...bandJan, ...bandMar, ...bandMay, ...bandJun, ...bandAug, ...bandOct, ...bandNov, ...bandDez];
bandas.forEach((linha, i) => {
  linha.forEach((v) => pontos.push({ x: i + PRIMEIRO_DIA, y: v }));
});

const densos = [...denseWinter, ...denseSpring, ...denseMay, ...denseJun, ...denseAug, ...denseOct, ...denseNov, ...denseDez];
densos.forEach((linha, i) => {
  linha.forEach((v) => pontos.push({ x: i + PRIMEIRO_DIA, y: v }));
});

const vermelha = [...redJan, ...redMar, ...redMay, ...redJun, ...redAug, ...redOct, ...redNov, ...redDez];

new Chart(document.getElementById("grafico"), {
  type: "scatter",
  data: {
    datasets: [
      {
        data: pontos,
        pointStyle: "rect",
        pointRadius: 3.8,
        pointBorderWidth: 2,
        pointBorderColor: "#4a7ebb",
        pointBackgroundColor: "rgba(0,0,0,0)",
        order: 3,
      },
      {
        data: vermelha.map((v, i) => ({ x: PRIMEIRO_DIA + 1 + i / 2, y: v })),
        showLine: true,
        borderColor: "#ff0000",
        borderWidth: 1.6,
        pointRadius: 0,
        order: 2,
      },
      {
        data: floorX.map((x, i) => ({ x, y: floorY[i] })),
        showLine: true,
        borderColor: "#ff0000",
        borderWidth: 5.5,
        borderCapStyle: "round",
        pointRadius: 0,
        order: 1,
      },
    ],
  },
  options: {
    responsive: false,
    animation: false,
    layout: { padding: { top: 20.4, right: 8, left: 0, bottom: 0 } },
    plugins: { legend: { display: false }, tooltip: { enabled: false } },
    scales: {
      x: {
        type: "linear",
        min: 0,
        max: 374.8,
        afterBuildTicks(s) { s.ticks = xTicks.map((v) => ({ value: v })); },
        afterFit(s) { s.height = 136.3; s.paddingLeft = 0; s.paddingRight = 0; },
        grid: { display: false },
        border: { color: "#868686", width: 2.5 },
        ticks: { callback: rotulo, maxRotation: 90, minRotation: 90, autoSkip: false, color: "#000", font: { family: "Lato", size: 24 }, padding: 8 },
      },
      y: {
        min: 0,
        max: 200,
        afterBuildTicks(s) { s.ticks = yTicks.map((v) => ({ value: v })); },
        afterFit(s) { s.width = 114.4; s.paddingTop = 0; s.paddingBottom = 0; },
        grid: { color: "#868686", lineWidth: 2, tickLength: 9 },
        border: { color: "#868686", width: 2.5 },
        ticks: { callback: (v) => v.toFixed(2), color: "#000", font: { family: "Lato", size: 24 }, padding: 16 },
      },
    },
  },
  plugins: [{
    id: "xTicks",
    afterDraw(chart) {
      const { ctx, chartArea, scales } = chart;
      ctx.save();
      ctx.strokeStyle = "#868686";
      ctx.lineWidth = 2;
      scales.x.ticks.forEach((t) => {
        const x = scales.x.getPixelForValue(t.value);
        ctx.beginPath();
        ctx.moveTo(x, chartArea.bottom);
        ctx.lineTo(x, chartArea.bottom + 9);
        ctx.stroke();
      });
      ctx.restore();
    },
  }],
});
</script>
</body>
</html>
